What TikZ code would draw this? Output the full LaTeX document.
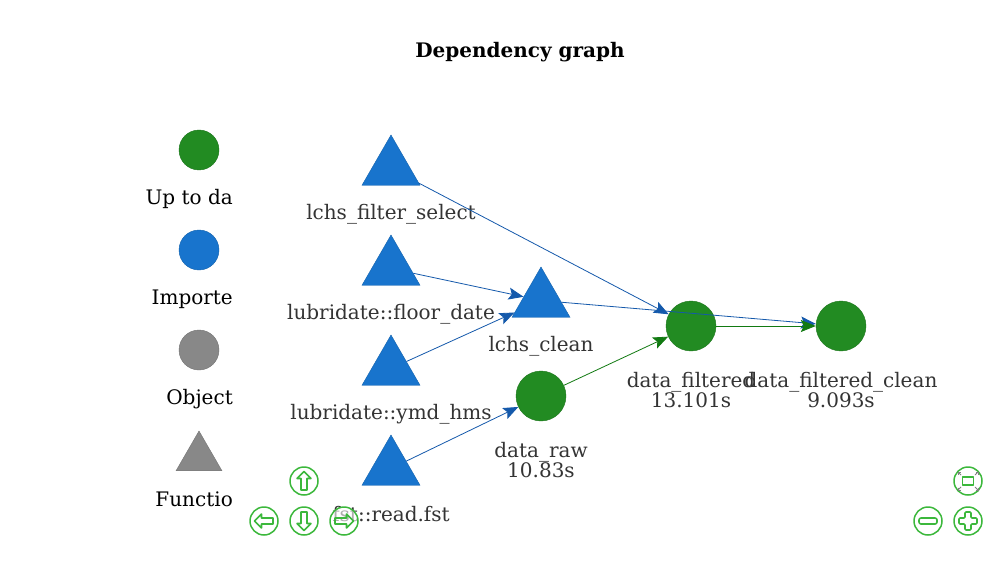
\documentclass[tikz,border=0pt]{standalone}
\usepackage{fontspec}
\setmainfont{DejaVu Serif}
\usetikzlibrary{shapes.geometric,arrows.meta}
\definecolor{upgreen}{HTML}{228B22}
\definecolor{impblue}{HTML}{1874CD}
\definecolor{objgray}{HTML}{888888}
\definecolor{edgeblue}{HTML}{1459AB}
\definecolor{edgegreen}{HTML}{127A12}
\definecolor{labelgray}{HTML}{343434}
\definecolor{btngreen}{HTML}{3CB83C}
\tikzset{
  circnode/.style={circle, minimum size=50pt, inner sep=0pt, draw=#1!85!black, line width=0.4pt, fill=#1},
  legcirc/.style={circle, minimum size=40pt, inner sep=0pt, draw=#1!85!black, line width=0.4pt, fill=#1},
  trinode/.style={regular polygon, regular polygon sides=3, minimum size=67pt, inner sep=0pt, fill=#1, draw=#1!85!black, line width=0.4pt},
  lbl/.style={text=labelgray, font=\fontsize{20pt}{20pt}\selectfont, align=center, inner sep=0pt},
  leglbl/.style={text=black, font=\fontsize{20pt}{20pt}\selectfont, anchor=east, inner sep=0pt},
  bedge/.style={draw=edgeblue, line width=0.8pt, -{Stealth[length=15pt,width=12pt,inset=3pt]}},
  gedge/.style={draw=edgegreen, line width=0.8pt, -{Stealth[length=15pt,width=12pt,inset=3pt]}},
  btn/.style={circle, draw=btngreen, line width=1.5pt, fill=white, fill opacity=0.6, minimum size=28pt, inner sep=0pt},
  icon/.style={draw=btngreen, line width=1.6pt, line join=round},
}
\begin{document}
\begin{tikzpicture}[x=1pt,y=-1pt]
\useasboundingbox[fill=white] (0,0) rectangle (1000,580);
% title
\node[font=\bfseries\fontsize{20pt}{22pt}\selectfont, inner sep=0pt] (title) at (520,52) {Dependency graph};
% legend
\node[legcirc=upgreen] (leg1) at (199,150) {};
\node[leglbl] (leg1l) at (233,199) {Up to da};
\node[legcirc=impblue] (leg2) at (199,250) {};
\node[leglbl] (leg2l) at (233,299) {Importe};
\node[legcirc=objgray] (leg3) at (199,350) {};
\node[leglbl] (leg3l) at (233,399) {Object};
\node[regular polygon, regular polygon sides=3, minimum size=53pt, inner sep=0pt, fill=objgray, draw=objgray!85!black, line width=0.4pt] (leg4) at (199,457.5) {};
\node[leglbl] (leg4l) at (233,499) {Functio};
% graph nodes
\node[trinode=impblue] (lfs) at (391,168.5) {};
\node[lbl] (lfsl) at (391,214) {lchs\_filter\_select};
\node[trinode=impblue] (lfd) at (391,268.5) {};
\node[lbl] (lfdl) at (391,314) {lubridate::floor\_date};
\node[trinode=impblue] (lc) at (541,300.5) {};
\node[lbl] (lcl) at (541,346) {lchs\_clean};
\node[trinode=impblue] (lymd) at (391,368.5) {};
\node[lbl] (lymdl) at (391,414) {lubridate::ymd\_hms};
\node[trinode=impblue] (fst) at (391,468.5) {};
\node[lbl] (fstl) at (391,514) {fst::read.fst};
\node[circnode=upgreen] (dr) at (541,396) {};
\node[lbl] (drl) at (541,460) {data\_raw\\10.83s};
\node[circnode=upgreen] (df) at (691,326) {};
\node[lbl] (dfl) at (691,390) {data\_filtered\\13.101s};
\node[circnode=upgreen] (dfc) at (841,326) {};
\node[lbl] (dfcl) at (841,390) {data\_filtered\_clean\\9.093s};
% edges
\draw[bedge] (lfs) -- (df);
\draw[bedge] (lfd) -- (lc);
\draw[bedge] (lymd) -- (lc);
\draw[bedge] (lc) -- (dfc);
\draw[bedge] (fst) -- (dr);
\draw[gedge] (dr) -- (df);
\draw[gedge] (df) -- (dfc);
% navigation buttons
\node[btn] (bup) at (304,481) {};
\node[btn] (bleft) at (264,521) {};
\node[btn] (bdown) at (304,521) {};
\node[btn] (bright) at (344,521) {};
\node[btn] (bfit) at (968,481) {};
\node[btn] (bminus) at (928,521) {};
\node[btn] (bplus) at (968,521) {};
\foreach \n/\r in {bup/0, bleft/90, bdown/180, bright/270}{
  \draw[icon, shift={(\n.center)}, rotate=\r] (0,-9.5) -- (7,-2.5) -- (3,-2.5) -- (3,9) -- (-3,9) -- (-3,-2.5) -- (-7,-2.5) -- cycle;
}
\draw[icon, shift={(bminus.center)}, rounded corners=2pt] (-9,-3) rectangle (9,3);
\draw[icon, shift={(bplus.center)}, rounded corners=1pt] (-3,-9) -- (3,-9) -- (3,-3) -- (9,-3) -- (9,3) -- (3,3) -- (3,9) -- (-3,9) -- (-3,3) -- (-9,3) -- (-9,-3) -- (-3,-3) -- cycle;
\draw[icon, shift={(bfit.center)}] (-5.5,-4) rectangle (5.5,4);
\foreach \sx/\sy in {1/1,1/-1,-1/1,-1/-1}{
  \draw[gray, line width=0.8pt, shift={(bfit.center)}] (\sx*7,\sy*6) -- (\sx*10,\sy*9);
  \draw[gray, line width=0.8pt, shift={(bfit.center)}] (\sx*10,\sy*6.5) -- (\sx*10,\sy*9) -- (\sx*7.5,\sy*9);
}
\end{tikzpicture}
\end{document}
